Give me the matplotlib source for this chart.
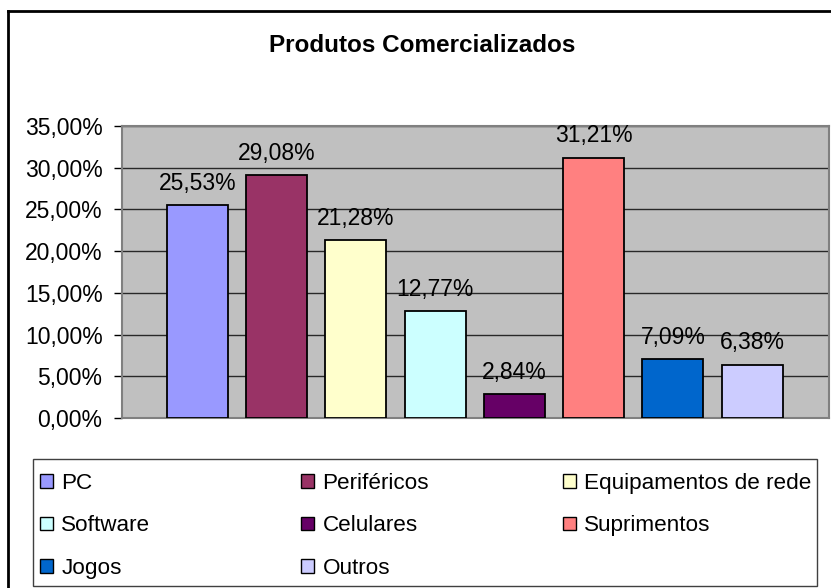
import matplotlib
matplotlib.use("Agg")
import matplotlib.pyplot as plt
from matplotlib.lines import Line2D
from matplotlib.patches import Patch, Rectangle

plt.rcParams['font.family'] = ['Liberation Sans', 'DejaVu Sans']

# data
produtos = ["PC", "Periféricos", "Equipamentos de rede", "Software",
            "Celulares", "Suprimentos", "Jogos", "Outros"]
percentual = [25.53, 29.08, 21.28, 12.77, 2.84, 31.21, 7.09, 6.38]
cores = ["#9999FF", "#993366", "#FFFFCC", "#CCFFFF",
         "#660066", "#FF8080", "#0066CC", "#CCCCFF"]
yticks = [0, 5, 10, 15, 20, 25, 30, 35]

FS = 16.5
W, H = 831, 588


def pct(v):
    return f"{v:.2f}%".replace(".", ",")


fig = plt.figure(figsize=(W / 100, H / 100), dpi=100)
ax = fig.add_axes([122 / W, 1 - 418 / H, 707 / W, 292 / H])
ax.set_facecolor("#C0C0C0")

x = list(range(len(produtos)))
bars = ax.bar(x, percentual, width=0.77, color=cores, edgecolor="black",
              linewidth=1.3, zorder=3)

for b, v in zip(bars, percentual):
    ax.annotate(pct(v), (b.get_x() + b.get_width() / 2, v),
                xytext=(0, 11), textcoords="offset points",
                ha="center", va="baseline", fontsize=FS, zorder=4)

ax.set_xlim(-0.953, 7.97)
ax.set_ylim(0, 35)
ax.set_yticks(yticks)
ax.set_yticklabels([pct(t) for t in yticks], fontsize=FS)
ax.set_xticks([])
ax.tick_params(axis="y", length=6, width=1, color="black", pad=8)
ax.yaxis.grid(True, color="#282828", linewidth=1)
ax.set_axisbelow(True)
for s in ax.spines.values():
    s.set_color("#808080")
    s.set_linewidth(1.5)

fig.text(0.508, 0.923, "Produtos Comercializados", ha="center", va="center",
         fontsize=17.5, fontweight="bold")

# legend: three equal-width columns, read row by row
colunas = [[0, 3, 6], [1, 4, 7], [2, 5]]
col_x = [40, 301, 563]
for idx, cx in zip(colunas, col_x):
    handles = [Patch(facecolor=cores[i], edgecolor="black", linewidth=1) for i in idx]
    fig.legend(handles, [produtos[i] for i in idx],
               bbox_to_anchor=(cx / W, 1 - 473 / H), loc="upper left",
               fontsize=16.2, frameon=False, handlelength=0.57,
               handleheight=0.57, handletextpad=0.38, labelspacing=0.95,
               borderaxespad=0, borderpad=0)
fig.add_artist(Rectangle((33 / W, 2 / H), 784 / W, 127 / H, fill=False,
                         edgecolor="#404040", linewidth=1,
                         transform=fig.transFigure))

# outer chart frame (left and top edges visible in the crop)
fig.add_artist(Line2D([8 / W, 8 / W], [0, 1 - 11 / H], color="black",
                      linewidth=2, transform=fig.transFigure))
fig.add_artist(Line2D([8 / W, 1], [1 - 11 / H, 1 - 11 / H], color="black",
                      linewidth=2, transform=fig.transFigure))

fig.savefig("out.png", dpi=100)
